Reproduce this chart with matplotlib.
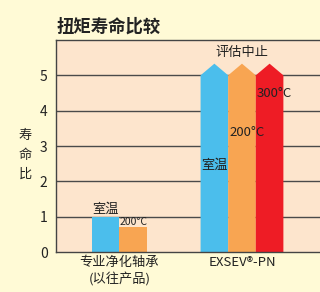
import matplotlib.pyplot as plt
from matplotlib.patches import Polygon

plt.rcParams['font.family'] = ['Noto Sans CJK SC', 'DejaVu Sans']

# data
groups = ['专业净化轴承\n(以往产品)', 'EXSEV®-PN']
old_vals = [1.0, 0.7]            # 室温, 200°C
new_vals = [5.0, 5.0, 5.0]       # 室温, 200°C, 300°C (evaluation stopped)
yticks = [0, 1, 2, 3, 4, 5]

blue = '#4BBEEC'
orange = '#F8A552'
red = '#EE1C25'
bg = '#FFFAD6'
axbg = '#FDE5CD'
grid = '#4a4a4a'

fig = plt.figure(figsize=(3.2, 2.92), dpi=100, facecolor=bg)
ax = fig.add_axes([56 / 320, 1 - 252 / 292, 1 - 56 / 320, 212 / 292])
ax.set_facecolor(axbg)

w = 0.225
ax.set_xlim(-0.516, 1.636)
ax.set_ylim(0, 6)

for y in yticks[1:]:
    ax.axhline(y, color=grid, lw=1.0, zorder=1)

# old product
ax.bar([0 - w / 2, 0 + w / 2], old_vals, width=w, color=[blue, orange], zorder=2)

# EXSEV-PN arrows
tip = 0.33
for i, (v, c) in enumerate(zip(new_vals, [blue, orange, red])):
    xc = 1 + (i - 1) * w
    pts = [(xc - w / 2, 0), (xc - w / 2, v), (xc, v + tip), (xc + w / 2, v), (xc + w / 2, 0)]
    ax.add_patch(Polygon(pts, closed=True, facecolor=c, edgecolor='none', zorder=2))

ax.set_yticks(yticks)
ax.set_yticklabels([str(t) for t in yticks], fontsize=10, color='#222222')
ax.tick_params(axis='y', length=0, pad=6)
ax.set_xticks([0, 1])
ax.set_xticklabels(groups, fontsize=9.5, color='#222222', linespacing=1.3)
ax.tick_params(axis='x', length=0, pad=3)

for s in ['left', 'bottom', 'top']:
    ax.spines[s].set_color('#444444')
    ax.spines[s].set_linewidth(1.0)
ax.spines['right'].set_visible(False)

# annotations
ax.text(0 - w / 2, 1.02, '室温', ha='center', va='bottom', fontsize=9.5, color='#222222', zorder=3)
ax.text(0 + w / 2, 0.72, '200°C', ha='center', va='bottom', fontsize=7.5, color='#222222', zorder=3)
ax.text(1, 5.45, '评估中止', ha='center', va='bottom', fontsize=9.5, color='#222222', zorder=3)
ax.text(1 + w + 0.04, 4.5, '300°C', ha='center', va='center', fontsize=9.5, color='#222222', zorder=3)
ax.text(1 + 0.04, 3.38, '200°C', ha='center', va='center', fontsize=9.5, color='#222222', zorder=3)
ax.text(1 - w, 2.45, '室温', ha='center', va='center', fontsize=9.5, color='#222222', zorder=3)

fig.text(57 / 320, 1 - 27 / 292, '扭矩寿命比较', ha='left', va='center',
         fontsize=12.5, fontweight='bold', color='#222222')
fig.text(25 / 320, 1 - 155 / 292, '寿\n命\n比', ha='center', va='center',
         fontsize=9.5, color='#222222', linespacing=1.6)

fig.savefig('out.png', dpi=100, facecolor=bg)
